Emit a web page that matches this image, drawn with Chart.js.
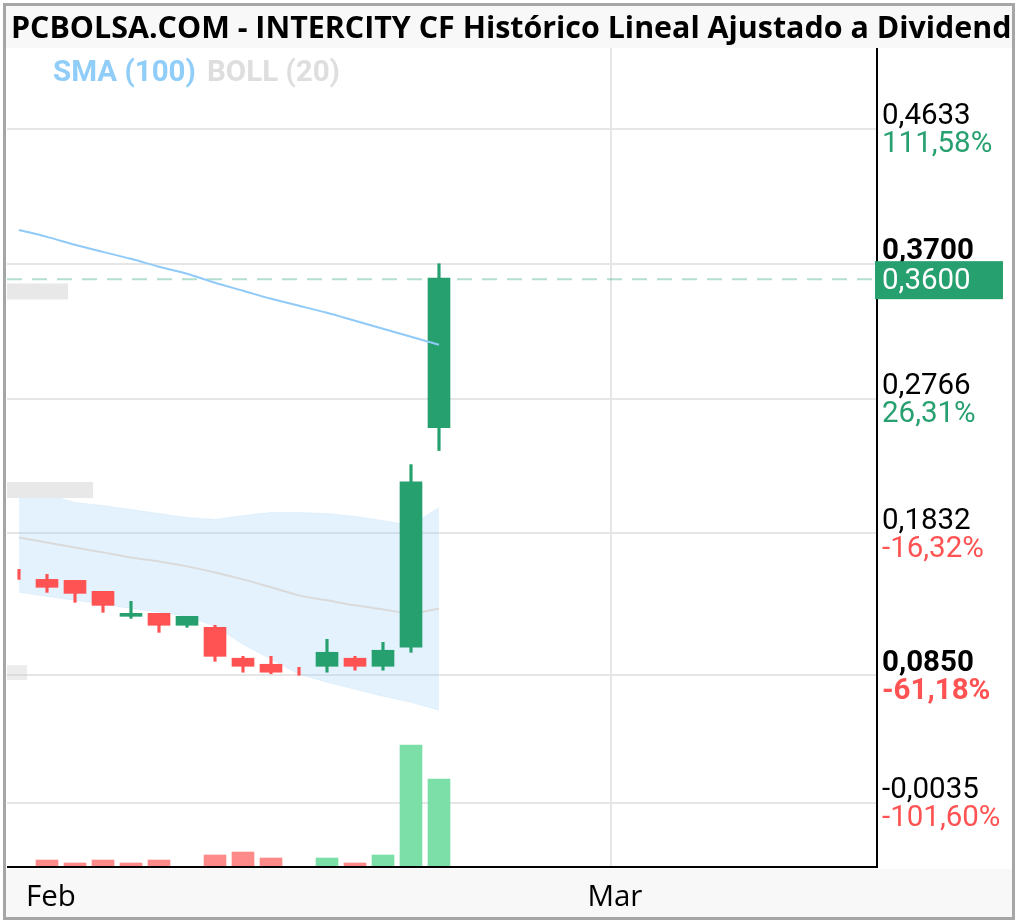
<!DOCTYPE html>
<html lang="es">
<head>
<meta charset="UTF-8">
<title>INTERCITY CF Histórico</title>
<script src="https://cdn.jsdelivr.net/npm/chart.js"></script>
<style>
  body { margin: 0; background: #fff; }
  canvas { display: block; }
</style>
</head>
<body>
<canvas id="grafico" width="1020" height="924"></canvas>
<script>
const titulo = 'PCBOLSA.COM - INTERCITY CF Histórico Lineal Ajustado a Dividendos';

// sesiones diarias (indice) y velas
const sesiones = [0, 1, 2, 3, 4, 5, 6, 7, 8, 9, 10, 11, 12, 13, 14, 15];
const apertura = [0.155, 0.1514, 0.1507, 0.1431, 0.1258, 0.1279, 0.1196, 0.1182, 0.0968, 0.0926, 0.088, 0.0912, 0.0968, 0.0912, 0.1044, 0.2565];
const maximo   = [0.1583, 0.1549, 0.1507, 0.1431, 0.1362, 0.1279, 0.1258, 0.1196, 0.0981, 0.0981, 0.0905, 0.1099, 0.0981, 0.1078, 0.2309, 0.37];
const minimo   = [0.1514, 0.1424, 0.1355, 0.1286, 0.1244, 0.1147, 0.1182, 0.0947, 0.0871, 0.086, 0.085, 0.0871, 0.0885, 0.0885, 0.1009, 0.2406];
const cierre   = [0.155, 0.1459, 0.1417, 0.1334, 0.1279, 0.1196, 0.1258, 0.0981, 0.0912, 0.0871, 0.088, 0.1009, 0.0912, 0.1023, 0.219, 0.36];
const volumen  = [null, 14, 8, 14, 8, 14, null, 24, 30, 18, null, 18, 8, 24, 244, 176];

// indicadores
const sma100    = [0.3934, 0.3886, 0.3831, 0.3782, 0.3734, 0.3679, 0.363, 0.3568, 0.3513, 0.3457, 0.3409, 0.336, 0.3305, 0.325, 0.3194, 0.3139];
const bollMedia = [0.1804, 0.177, 0.1735, 0.1701, 0.1666, 0.1638, 0.1604, 0.1562, 0.1514, 0.1459, 0.1403, 0.1369, 0.1334, 0.1306, 0.1279, 0.1313];
const bollSup   = [0.2171, 0.2102, 0.2046, 0.2026, 0.1998, 0.197, 0.1943, 0.1929, 0.1957, 0.1977, 0.1977, 0.197, 0.195, 0.1922, 0.1887, 0.2012];
const bollInf   = [0.1424, 0.1396, 0.1369, 0.1341, 0.1313, 0.1286, 0.1258, 0.1189, 0.1064, 0.0961, 0.0857, 0.0802, 0.0753, 0.0705, 0.0663, 0.0608];

// ejes
const ticksPrecio = [0.4633, 0.37, 0.2766, 0.1832, 0.085, -0.0035];
const ticksTexto  = ['0,4633', '0,3700', '0,2766', '0,1832', '0,0850', '-0,0035'];
const ticksPct    = ['111,58%', '', '26,31%', '-16,32%', '-61,18%', '-101,60%'];
const ultimoPrecio = 0.36;
const ultimoTexto = '0,3600';
const meses = ['Feb', 'Mar'];
const mesesSesion = [1, 21.14];
const etiquetasIzq = [0.3508, 0.2133];

const VERDE = '#27a06f';
const ROJO = '#ff5252';

const colorVela = sesiones.map(i => cierre[i] > apertura[i] ? VERDE : ROJO);
const colorVol = sesiones.map(i => (i > 0 && cierre[i] > cierre[i - 1]) ? '#7ddfa8' : '#ff8a8a');
const xy = arr => arr.map((v, i) => ({ x: sesiones[i], y: v }));

const maxTotal = Math.max(...maximo);
const minTotal = Math.min(...minimo);

const decoracion = {
  id: 'decoracion',
  beforeDraw(chart) {
    const c = chart.ctx;
    c.save();
    c.fillStyle = '#fff';
    c.fillRect(0, 0, chart.width, chart.height);
    c.restore();
  },
  beforeDatasetsDraw(chart) {
    const c = chart.ctx, a = chart.chartArea;
    const y = chart.scales.y, x = chart.scales.x;
    c.save();
    c.strokeStyle = '#e6e6e6';
    c.lineWidth = 2;
    ticksPrecio.forEach(v => {
      const py = Math.round(y.getPixelForValue(v));
      c.beginPath(); c.moveTo(a.left, py); c.lineTo(a.right, py); c.stroke();
    });
    // solo la linea de Mar
    const px = Math.round(x.getPixelForValue(mesesSesion[1]));
    c.beginPath(); c.moveTo(px, a.top); c.lineTo(px, a.bottom); c.stroke();
    // ultimo precio discontinuo
    const pu = y.getPixelForValue(ultimoPrecio);
    c.strokeStyle = 'rgba(39,160,111,0.35)';
    c.setLineDash([15, 10]);
    c.beginPath(); c.moveTo(a.left, pu + 1); c.lineTo(a.right, pu + 1); c.stroke();
    c.restore();
  },
  afterDatasetsDraw(chart) {
    const c = chart.ctx, a = chart.chartArea, y = chart.scales.y;
    c.save();
    c.fillStyle = '#e8e8e8';
    const anchos = [61, 86];
    etiquetasIzq.forEach((v, k) => {
      const py = y.getPixelForValue(v);
      c.fillRect(a.left, py - 8, anchos[k], 16);
    });
    c.fillStyle = 'rgba(200,200,200,0.35)';
    c.fillRect(a.left, y.getPixelForValue(0.0865) - 8, 20, 15);
    c.restore();
  },
  afterDraw(chart) {
    const c = chart.ctx, a = chart.chartArea;
    const y = chart.scales.y, x = chart.scales.x;
    c.save();
    // bandas de titulo y de meses
    c.fillStyle = '#f8f8f8';
    c.fillRect(6, 6, 1008, a.top - 6);
    c.fillRect(6, a.bottom + 2, 1008, 917 - a.bottom - 2);
    c.save();
    c.beginPath(); c.rect(6, 6, 1007, a.top - 6); c.clip();
    c.fillStyle = '#000';
    c.font = 'bold 30.4px "Open Sans"';
    c.textBaseline = 'middle';
    c.fillText(titulo, 11, 29);
    c.restore();

    // leyenda
    c.font = 'bold 29.5px Roboto';
    c.textBaseline = 'middle';
    c.fillStyle = '#90cdf8';
    c.fillText('SMA (100)', 53, 74);
    c.fillStyle = '#dedede';
    c.fillText('BOLL (20)', 207, 74);

    // ejes
    c.strokeStyle = '#000';
    c.lineWidth = 2;
    c.beginPath();
    c.moveTo(a.right, a.top); c.lineTo(a.right, a.bottom + 1);
    c.moveTo(a.left, a.bottom); c.lineTo(a.right + 1, a.bottom);
    c.stroke();

    // etiquetas del eje de precios
    const xl = a.right + 5;
    ticksPrecio.forEach((v, k) => {
      const py = y.getPixelForValue(v);
      const negrita = (v === maxTotal || v === minTotal) ? 'bold ' : '';
      c.font = negrita + '29.5px Roboto';
      c.fillStyle = '#000';
      c.fillText(ticksTexto[k], xl, py - 12);
      if (ticksPct[k]) {
        c.fillStyle = ticksPct[k].startsWith('-') ? ROJO : VERDE;
        c.fillText(ticksPct[k], xl, py + 16);
      }
    });
    const pu = y.getPixelForValue(ultimoPrecio);
    c.fillStyle = VERDE;
    c.fillRect(a.right - 2, pu - 17, 128, 38);
    c.fillStyle = '#fff';
    c.font = '29.5px Roboto';
    c.fillText(ultimoTexto, xl, pu + 3);

    // meses
    c.fillStyle = '#000';
    c.font = '29.5px "Open Sans"';
    c.textAlign = 'center';
    meses.forEach((m, k) => {
      c.fillText(m, x.getPixelForValue(mesesSesion[k]) + 4, 898);
    });

    // marco
    c.strokeStyle = '#a6a6a6';
    c.lineWidth = 3;
    c.strokeRect(4.5, 4.5, 1009, 914);
    c.restore();
  }
};

new Chart(document.getElementById('grafico'), {
  type: 'bar',
  data: {
    datasets: [
      { type: 'line', label: 'SMA (100)', data: xy(sma100), borderColor: '#90caf9', borderWidth: 2, pointRadius: 0, tension: 0.3, fill: false, order: 0 },
      { label: 'Cuerpo', data: sesiones.map(i => ({ x: i, y: apertura[i] === cierre[i] ? null : [apertura[i], cierre[i]] })), backgroundColor: colorVela, barThickness: 22, grouped: false, order: 1 },
      { label: 'Mecha', data: sesiones.map(i => ({ x: i, y: [minimo[i], maximo[i]] })), backgroundColor: colorVela, barThickness: 2.5, grouped: false, order: 2 },
      { label: 'Volumen', data: xy(volumen), yAxisID: 'yv', backgroundColor: colorVol, barThickness: 22, grouped: false, order: 3 },
      { type: 'line', label: 'BOLL media', data: xy(bollMedia), borderColor: '#dadada', borderWidth: 2, pointRadius: 0, tension: 0.3, fill: false, order: 4 },
      { type: 'line', label: 'BOLL sup', data: xy(bollSup), borderColor: 'rgba(144,202,249,0.15)', borderWidth: 1, backgroundColor: 'rgba(144,202,249,0.25)', pointRadius: 0, fill: '+1', order: 5 },
      { type: 'line', label: 'BOLL inf', data: xy(bollInf), borderColor: 'rgba(144,202,249,0.15)', borderWidth: 1, pointRadius: 0, fill: false, order: 6 }
    ]
  },
  plugins: [decoracion],
  options: {
    responsive: false,
    animation: false,
    devicePixelRatio: 1,
    events: [],
    layout: { padding: { left: 7, top: 48, right: 143, bottom: 57 } },
    plugins: { legend: { display: false }, tooltip: { enabled: false } },
    scales: {
      x: { type: 'linear', display: false, offset: false, min: -0.4286, max: 30.643 },
      y: { display: false, min: -0.0478, max: 0.5194 },
      yv: { display: false, min: 0, max: 1638 }
    }
  }
});
</script>
</body>
</html>
